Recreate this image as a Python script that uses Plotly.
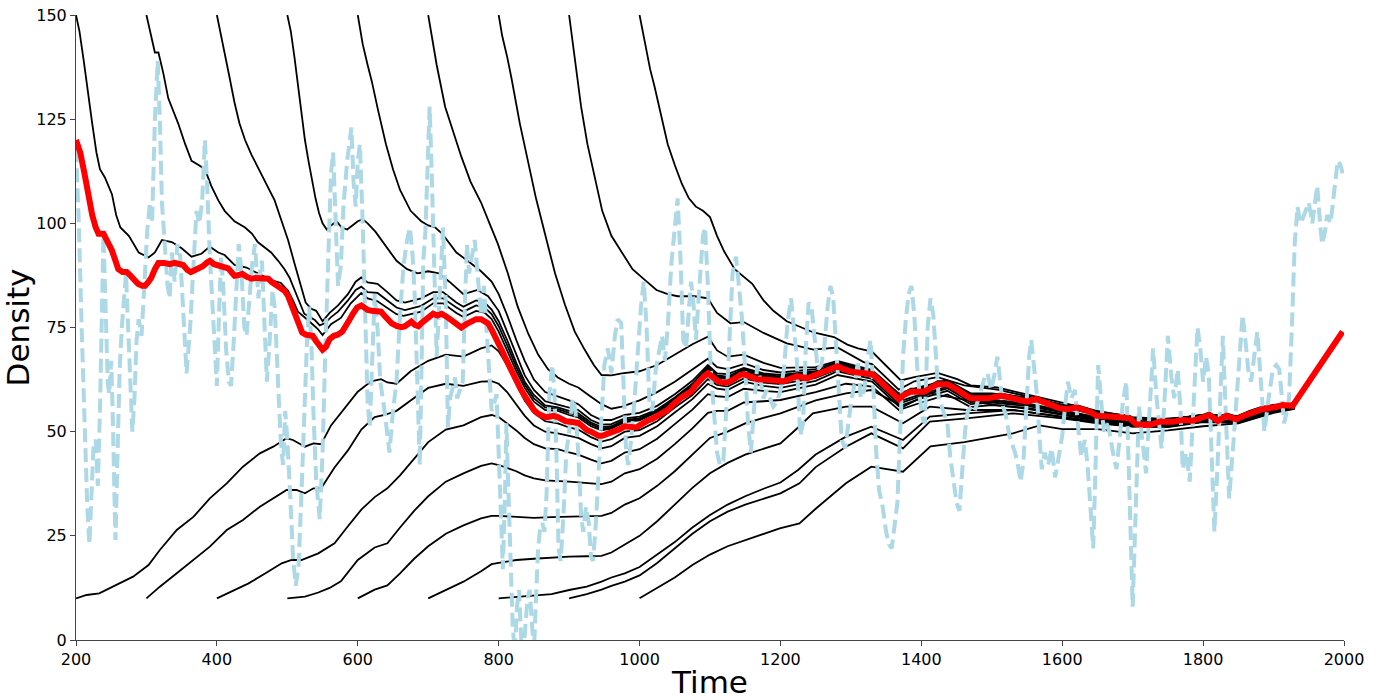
import plotly.graph_objects as go

# ---------------- data (time, density) ----------------
RED = [(200,120),(206,117),(212,112),(218,106),(223,102),(228,99),(232,97.5),(239,97.5),(245,95.5),(251,93.5),(256,91),(260,89),(266,88.3),(272,88.3),(277,87.5),(282,86.5),(288,85.5),(294,85),(298,85),(303,86),(307,87),(312,89),(317,90.5),(325,90.5),(333,90.2),(340,90.5),(347,90.4),(352,90),(358,88.8),(363,88.3),(369,88.8),(374,89.2),(380,89.7),(386,90.6),(390,91),(396,90.2),(403,89.8),(410,89.7),(416,89.2),(421,88.2),(425,87.4),(431,87.6),(436,87.9),(442,87.2),(449,86.7),(455,86.9),(462,86.8),(468,86.9),(473,86.7),(478,85.9),(484,85.3),(491,84.6),(496,83.8),(501,82.6),(506,80.6),(511,78.5),(516,76.2),(521,73.8),(526,73.3),(531,73.2),(536,73),(541,71.7),(546,70.3),(550,69.7),(555,70.4),(560,72.2),(566,73),(572,73.3),(578,74),(583,75.2),(588,76.8),(593,78.3),(599,79.8),(605,80.3),(610,79.6),(614,79.2),(620,79),(626,79),(633,78.8),(638,77.8),(643,76.6),(648,76),(655,75.4),(662,75.1),(667,75.3),(672,76),(676,76.4),(681,75.6),(686,75.3),(690,76),(695,76.8),(701,77.8),(707,78.3),(713,77.9),(719,78.3),(726,77.6),(733,76.8),(740,75.8),(747,75),(754,75.8),(761,76.6),(768,77),(775,77),(780,76.6),(785,76),(790,74.5),(795,73),(800,71.5),(806,69),(812,66.8),(818,64.6),(825,62.2),(831,60.3),(837,58.6),(844,56.6),(850,55.2),(856,54.3),(861,53.7),(866,53.5),(872,53.6),(878,53.8),(884,53.5),(890,52.9),(895,52.5),(902,52.4),(908,52.3),(913,52.1),(919,51.3),(925,50.4),(931,50),(937,49.5),(942,49),(947,49),(953,49.4),(960,49.5),(966,50),(972,50.6),(979,51.3),(985,51.3),(990,51.2),(995,51),(1000,51.5),(1006,52.2),(1012,52.7),(1017,53),(1023,53.5),(1029,54),(1035,54.5),(1041,55.3),(1047,56.4),(1054,57.6),(1060,58.3),(1066,58.9),(1073,59.6),(1079,61),(1085,62.3),(1091,63.2),(1097,64),(1100,63.6),(1106,62.6),(1112,62),(1119,61.8),(1125,61.8),(1131,62.3),(1137,63),(1143,63.6),(1148,63.8),(1154,63.3),(1160,62.8),(1167,62.6),(1176,62.5),(1186,62.4),(1195,62.2),(1205,62.1),(1214,62.7),(1224,63.3),(1231,63),(1238,62.8),(1247,63.4),(1257,64.1),(1266,64.9),(1274,65.5),(1281,65.7),(1290,65),(1300,64.4),(1310,64.2),(1318,64.1),(1330,63.8),(1337,62.8),(1345,61.5),(1352,60.6),(1360,59),(1368,57.8),(1375,58.8),(1385,59.6),(1404,59.6),(1413,60.5),(1423,61.4),(1437,61.4),(1445,60.8),(1451,60.1),(1460,59),(1470,58),(1494,58),(1505,58.3),(1513,58.6),(1522,58.3),(1531,58),(1540,57.5),(1550,57.2),(1557,57.6),(1564,57.8),(1572,57.2),(1583,56.4),(1595,55.7),(1606,55.4),(1620,55.8),(1630,55.3),(1639,54.8),(1649,53.8),(1667,53.8),(1677,53.5),(1696,53.2),(1701,52.5),(1705,51.8),(1724,51.6),(1738,52.4),(1757,52.4),(1771,52.8),(1785,52.6),(1797,53.3),(1809,54),(1815,53.3),(1821,52.6),(1833,53.8),(1847,53),(1856,53.7),(1866,54.4),(1884,55.4),(1903,55.9),(1913,56.4),(1927,56.2),(1938,59),(1950,62.4),(1962,65.2),(1974,68),(1985,70.8),(1998,74)]

BLUE = [(200,118),(204,100),(208,75),(212,50),(216,32),(219,23),(222,35),(225,47),(228,48),(231,37),(234,55),(237,85),(239,97),(242,80),(245,62),(247,59),(250,67),(252,55),(254,35),(256,24),(259,45),(262,65),(265,75),(268,82),(271,88),(274,75),(277,60),(280,50),(283,58),(286,72),(289,77),(293,73),(297,85),(301,98),(305,105),(308,100),(312,125),(316,139),(319,125),(322,105),(326,95),(330,85),(333,82),(336,93),(340,86),(344,95),(348,92),(352,80),(357,64),(362,75),(367,93),(371,103),(375,100),(379,105),(383,120),(386,110),(390,92),(394,78),(398,65),(400,61),(403,78),(406,92),(409,85),(413,70),(417,62),(420,61),(424,72),(428,88),(431,95),(435,88),(439,75),(442,73),(446,82),(450,90),(454,95),(457,85),(459,82),(462,90),(464,91),(467,78),(471,62),(475,72),(479,84),(482,80),(486,62),(490,50),(492,45),(494,42),(497,55),(500,48),(504,35),(508,20),(512,13),(516,18),(520,35),(524,55),(528,72),(531,80),(534,72),(537,55),(541,38),(546,29),(550,45),(554,70),(558,95),(562,112),(565,117),(568,100),(572,85),(576,90),(580,105),(585,115),(591,123),(594,110),(597,104),(600,115),(603,119),(607,100),(611,75),(614,57),(617,51),(620,65),(624,83),(628,75),(632,62),(638,55),(645,45),(650,55),(655,62),(660,78),(665,90),(670,96),(674,99),(678,92),(681,82),(684,65),(688,42),(691,70),(693,91),(696,98),(699,112),(702,128),(705,112),(708,90),(712,68),(716,82),(721,99),(725,80),(728,51),(731,58),(734,60),(738,63),(741,58),(745,60),(749,62),(752,80),(755,95),(758,88),(762,92),(766,96),(770,88),(775,78),(779,85),(783,75),(787,65),(790,55),(794,57),(797,59),(800,45),(803,28),(806,17),(809,35),(811,52),(814,35),(817,15),(820,3),(823,-3),(826,8),(829,12),(832,0),(835,-3),(838,5),(841,10),(844,12),(847,2),(850,-3),(853,10),(856,22),(859,27),(862,28),(865,26),(868,35),(872,59),(876,66),(879,60),(882,45),(885,22),(888,19),(892,30),(896,45),(900,50),(905,58),(909,55),(913,45),(917,30),(920,26),(924,32),(928,28),(931,20),(934,19),(938,28),(942,40),(946,55),(950,66),(955,70),(960,64),(965,73),(969,77),(974,76),(978,60),(981,45),(984,42),(988,48),(993,58),(998,72),(1002,80),(1006,86),(1010,75),(1014,57),(1018,55),(1023,65),(1028,70),(1032,73),(1036,67),(1040,75),(1045,90),(1050,100),(1054,106),(1058,92),(1062,72),(1066,70),(1070,80),(1073,86),(1076,82),(1080,72),(1085,85),(1090,97),(1093,99),(1097,85),(1101,65),(1106,52),(1110,45),(1114,42),(1119,43),(1123,55),(1128,75),(1132,88),(1137,92),(1141,85),(1145,78),(1150,65),(1154,52),(1158,45),(1162,55),(1167,66),(1171,63),(1176,58),(1180,60),(1185,58),(1190,56),(1195,57),(1200,60),(1205,65),(1210,76),(1215,82),(1219,74),(1223,68),(1228,49),(1232,52),(1236,70),(1240,81),(1244,80),(1249,72),(1253,65),(1258,66),(1262,70),(1267,80),(1271,85),(1275,82),(1279,70),(1283,57),(1287,48),(1292,46),(1297,52),(1301,58),(1306,62),(1310,67),(1314,58),(1319,60),(1324,68),(1328,72),(1332,60),(1336,45),(1340,36),(1345,32),(1350,26),(1354,23),(1358,22),(1362,28),(1366,33),(1370,50),(1374,68),(1378,77),(1382,83),(1386,85),(1390,78),(1394,66),(1398,58),(1402,53),(1405,52),(1409,75),(1413,82),(1417,78),(1421,68),(1425,57),(1429,56),(1433,54),(1437,52),(1441,44),(1446,38),(1450,33),(1454,31),(1458,40),(1462,50),(1466,55),(1471,56),(1476,55),(1481,58),(1486,61),(1490,63),(1494,64),(1499,60),(1503,63),(1508,68),(1512,62),(1516,56),(1520,54),(1525,49),(1529,47),(1533,45),(1537,42),(1541,38),(1545,43),(1549,55),(1553,68),(1556,72),(1560,65),(1564,59),(1568,48),(1571,41),(1575,45),(1580,42),(1585,46),(1590,39),(1595,44),(1600,49),(1604,56),(1608,62),(1613,58),(1618,60),(1622,52),(1627,44),(1632,48),(1636,42),(1640,32),(1644,22),(1647,40),(1651,66),(1655,58),(1659,50),(1663,52),(1667,50),(1672,45),(1677,41),(1682,49),(1686,57),(1691,62),(1695,42),(1698,20),(1700,8),(1703,25),(1706,45),(1709,56),(1713,49),(1719,40),(1724,55),(1729,70),(1734,58),(1741,46),(1746,60),(1750,73),(1755,63),(1759,58),(1764,65),(1768,55),(1771,41),(1776,45),(1781,38),(1786,55),(1792,75),(1796,70),(1800,62),(1804,68),(1808,64),(1812,45),(1816,26),(1820,40),(1824,60),(1828,73),(1832,55),(1837,34),(1842,45),(1848,60),(1853,70),(1856,78),(1860,72),(1864,65),(1868,62),(1872,68),(1877,74),(1882,62),(1887,50),(1893,58),(1899,65),(1904,66),(1908,65),(1912,58),(1915,52),(1919,55),(1922,58),(1926,75),(1930,95),(1934,104),(1938,100),(1941,101),(1946,103),(1950,105),(1955,100),(1958,104),(1962,109),(1966,100),(1969,95),(1973,98),(1976,102),(1981,100),(1986,108),(1991,115),(1995,114),(1998,112)]

# trajectories started from the top (150)
U200 = [(200,150),(205,146),(211,139),(217,131),(223,124),(229,117),(234,113),(241,111),(251,107),(257,102),(263,99),(275,97),(289,93),(303,91.8),(312,93),(322,96),(336,95.5),(350,94),(364,92),(378,92.7),(390,94.4),(402,93),(411,92.4),(425,90),(442,89.4),(458,88),(477,86.4),(491,85.7),(501,83.8),(508,81.5),(515,78.8),(529,76.8),(543,74.7),(550,73.2),(562,75.8),(576,77.3),(590,80.8),(605,83.3),(614,82),(628,81.3),(642,79.8),(655,78.2),(665,77.8),(681,78.5),(690,78.8),(707,80.8),(721,80.8),(740,78.5),(750,77.5),(768,79),(780,78.6),(790,77),(800,74),(812,69.5),(825,64.5),(837,60.5),(850,57.2),(866,55.2),(884,55),(900,54),(913,53.4),(931,51.3),(946,50.3),(960,50.7),(979,52.3),(1000,52.7),(1017,54),(1035,55.5),(1054,58.6),(1073,60.6),(1085,63.2),(1097,64.8),(1112,62.9),(1125,62.7),(1148,64.6),(1167,63.4),(1195,63),(1224,64),(1238,63.5),(1257,64.8),(1281,66.4),(1300,65.1),(1330,64.5),(1352,61.3),(1368,58.6),(1385,60.3),(1404,60.3),(1423,62.1),(1437,62.1),(1451,60.8),(1470,58.7),(1494,58.7),(1513,59.2),(1531,58.6),(1550,57.8),(1564,58.4),(1583,57),(1606,56),(1620,56.4),(1639,55.4),(1649,54.4),(1667,54.4),(1696,53.8),(1705,52.4),(1724,52.2),(1738,53),(1771,53.4),(1785,53.2),(1809,54.6),(1821,53.2),(1833,54.4),(1847,53.6),(1866,55),(1884,56),(1903,56.5),(1930,56.8)]
U300 = [(300,150),(305,146),(312,141),(317,141),(324,136),(331,130),(338,127),(345,124),(355,119),(364,115),(374,114),(383,113),(392,109),(402,105.5),(411,103),(425,100.5),(440,99),(450,97.5),(458,95.5),(468,94.3),(477,93),(487,91),(496,89),(503,87),(510,84),(517,81),(524,78.3),(532,77.5),(539,76.8),(546,75.5),(553,76),(562,77.5),(572,78.8),(586,81.5),(597,84),(605,84.8),(614,83.5),(628,83.3),(642,81.5),(655,79.8),(667,79.2),(681,79.8),(690,80.2),(707,82),(721,82),(740,79.8),(750,78.8),(768,80.3),(780,79.8),(790,78.2),(800,75.3),(812,70.8),(825,65.5),(837,61.3),(850,58),(866,55.8),(884,55.4),(900,54.5),(913,53.9),(931,51.8),(946,50.7),(960,51),(979,52.5),(1000,53),(1025,54.8),(1050,57.8),(1075,61),(1097,65),(1110,63.1),(1125,62.9),(1148,64.8),(1176,63.4),(1200,63),(1250,64.1),(1281,66),(1330,64.1),(1368,58.3),(1400,60),(1437,61.8),(1470,58.4),(1500,58.5),(1550,57.6),(1600,55.8),(1650,54.1),(1700,52.9),(1750,52.7),(1800,53.8),(1850,53.5),(1900,56.1),(1930,56.6)]
U400 = [(400,150),(405,146),(411,141),(418,135),(425,129),(432,124),(440,120),(449,116.5),(458,113.5),(470,109.5),(482,105.5),(491,101),(501,96),(510,90.5),(518,85.5),(526,81),(534,79.5),(541,79),(550,76.5),(560,78.5),(572,80.3),(586,83),(597,86),(605,87),(614,85.8),(628,85.5),(642,83.5),(655,81.5),(667,81),(681,81.5),(690,82),(707,83.5),(721,83.5),(740,81),(750,80),(768,81.5),(780,81),(790,79.3),(800,76.5),(812,72),(825,66.5),(837,62),(850,58.8),(866,56.3),(884,55.8),(900,55),(913,54.4),(931,52.2),(946,51.1),(960,51.3),(979,52.8),(1000,53.2),(1025,55),(1050,57.9),(1075,61.2),(1097,65.2),(1110,63.3),(1125,63),(1148,64.9),(1176,63.5),(1200,63.1),(1250,64.2),(1281,66.1),(1330,64.2),(1368,58.4),(1400,60.1),(1437,61.9),(1470,58.5),(1500,58.6),(1550,57.7),(1600,55.9),(1650,54.2),(1700,53),(1750,52.8),(1800,53.9),(1850,53.6),(1900,56.2),(1930,56.6)]
U500 = [(500,150),(505,146),(510,140),(515,133),(520,126),(525,120),(530,115),(535,110),(540,106),(545,102.5),(550,100),(556,98.5),(562,99.5),(570,100.5),(577,99),(585,98.5),(593,99.5),(600,100.5),(607,101),(614,100),(625,98),(642,94),(655,91),(670,89),(685,88),(700,88.5),(715,88),(730,86),(750,83),(770,84),(785,82.5),(800,79),(812,74),(825,68.5),(837,63.5),(850,60),(866,57.3),(884,56.5),(900,55.8),(913,55.2),(931,52.8),(946,51.7),(960,51.8),(979,53.2),(1000,53.6),(1025,55.3),(1050,58.2),(1075,61.5),(1097,65.5),(1110,63.5),(1125,63.2),(1148,65),(1176,63.7),(1200,63.2),(1250,64.3),(1281,66.2),(1330,64.3),(1368,58.5),(1400,60.2),(1437,62),(1470,58.6),(1500,58.7),(1550,57.8),(1600,56),(1650,54.2),(1700,53),(1750,52.8),(1800,53.9),(1850,53.6),(1900,56.2),(1930,56.6)]
U600 = [(600,150),(607,143),(614,138),(620,134),(629,127),(640,119),(650,113),(660,108),(675,103),(690,100.5),(700,99.5),(710,99),(720,97.5),(740,93),(760,90.5),(775,88.5),(790,86),(800,83),(812,78),(825,72),(837,67),(850,62.5),(866,59.5),(884,58.5),(900,57.5),(913,56.6),(931,54),(946,52.8),(960,52.8),(979,54),(1000,54.5),(1025,56.2),(1050,59),(1075,62.2),(1097,66),(1110,64),(1125,63.8),(1148,65.3),(1176,64),(1200,63.6),(1250,64.5),(1281,66.4),(1330,64.5),(1368,58.7),(1400,60.4),(1437,62.1),(1470,58.7),(1500,58.8),(1550,57.9),(1600,56.1),(1650,54.3),(1700,53.1),(1750,52.8),(1800,53.9),(1850,53.6),(1900,56.2),(1930,56.6)]
U700 = [(700,150),(712,138),(724,128),(735,122),(747,116),(760,110),(775,105),(787,100),(799,95),(813,88),(827,80),(842,73.5),(856,68.5),(870,65),(884,63),(900,61.5),(913,60.6),(930,58.5),(946,56.6),(960,55.5),(975,56),(1000,57.5),(1025,59.5),(1050,62),(1075,65),(1097,67.5),(1110,65.5),(1125,65),(1150,66.3),(1176,64.8),(1200,64.2),(1250,65),(1281,66.7),(1330,64.7),(1368,58.9),(1400,60.6),(1437,62.2),(1470,58.9),(1500,59),(1550,58),(1600,56.2),(1650,54.4),(1700,53.2),(1750,52.9),(1800,54),(1850,53.7),(1900,56.3),(1930,56.7)]
U800 = [(800,150),(805,145),(812,140),(818,135),(830,124),(842,115),(853,106),(865,98),(880,88),(894,80.5),(908,74),(922,69.7),(935,66),(946,63.6),(960,63.5),(975,64),(1000,64.5),(1025,66),(1050,68.5),(1075,71),(1097,72.8),(1110,69.5),(1125,68),(1148,68.5),(1176,66.5),(1200,65.3),(1250,65.5),(1281,67),(1330,64.8),(1368,59.2),(1400,60.8),(1437,62.3),(1470,59.2),(1500,59.2),(1550,58.2),(1600,56.3),(1650,54.5),(1700,53.3),(1750,52.9),(1800,54),(1850,53.7),(1900,56.3),(1930,56.7)]
U900 = [(900,150),(908,140),(917,128),(926,119),(936,111),(947,103),(960,97),(975,93),(990,89),(1007,86.5),(1024,84),(1040,83),(1054,82.5),(1078,82.5),(1097,82),(1110,78.5),(1129,76),(1148,76.3),(1176,73.7),(1209,71.2),(1247,69.7),(1281,70.2),(1318,66.7),(1330,66.2),(1368,60.1),(1390,62.1),(1423,63.1),(1461,61.1),(1508,60.1),(1550,58.5),(1600,56.5),(1650,54.7),(1700,53.3),(1750,52.9),(1800,54),(1850,53.7),(1900,56.3),(1930,56.7)]
U1000 = [(1000,150),(1008,143),(1015,137),(1021,133),(1030,126),(1040,119),(1050,114),(1060,109.5),(1070,106),(1080,104),(1090,103),(1100,101.5),(1110,97),(1120,93.3),(1135,89),(1150,87),(1160,85.5),(1176,81.5),(1190,79),(1209,76.5),(1230,75),(1247,73.8),(1276,72.7),(1295,70.9),(1310,70),(1330,69.2),(1349,66),(1371,62.3),(1390,63.1),(1423,64.1),(1451,62.6),(1470,61.1),(1508,60.6),(1546,59.1),(1600,57),(1650,55),(1700,53.5),(1750,53),(1800,54),(1850,53.8),(1900,56.3),(1930,56.8)]

# trajectories started from the bottom (10)
L200 = [(200,10),(215,10.8),(233,11.2),(257,13.2),(281,15.2),(303,18),(319,21.6),(343,26.4),(367,29.6),(390,34),(414,37.6),(437,41.6),(461,44.8),(480,46.4),(499,48.4),(508,48),(525,46.4),(537,47.2),(548,47),(562,51.5),(581,55.6),(600,59.6),(619,62.1),(633,62.6),(642,61.8),(655,61.5),(675,64.5),(700,67),(725,68.5),(750,68),(775,70),(790,70.7),(800,69.3),(812,66),(825,61.5),(837,57.5),(850,54.5),(866,52.5),(884,52),(900,51),(913,50.5),(931,48.7),(946,47.6),(960,48.2),(979,50),(1000,50.4),(1025,52.5),(1050,55.8),(1075,58.8),(1097,62.6),(1110,61.2),(1125,60.8),(1148,62.8),(1176,61.8),(1200,61.4),(1250,62.9),(1281,65),(1330,63.2),(1368,57.2),(1400,59),(1437,60.8),(1470,57.5),(1500,57.7),(1550,56.8),(1600,55.1),(1650,53.5),(1700,52.3),(1750,52.1),(1800,53.2),(1850,53),(1900,55.6),(1930,56.3)]
L300 = [(300,10),(319,12.8),(343,16),(367,19.2),(390,22.4),(414,26.4),(437,28.8),(461,32),(485,34.4),(499,36),(513,36),(525,35.2),(537,36.4),(548,36.4),(567,41.4),(586,45.5),(605,50.5),(624,53.5),(638,54),(655,55),(675,57.5),(700,60.5),(725,61.5),(750,61),(775,62),(790,62.1),(800,61.5),(812,59.5),(825,56.5),(837,53.8),(850,51.5),(866,50),(884,49.6),(900,49),(913,48.5),(931,47),(946,46),(960,46.5),(979,48.5),(1000,49),(1025,51.3),(1050,54.6),(1075,57.8),(1097,61.5),(1110,60.3),(1125,60),(1148,62),(1176,61),(1200,60.5),(1250,62.2),(1281,64.5),(1330,62.7),(1368,56.7),(1400,58.6),(1437,60.4),(1470,57.1),(1500,57.4),(1550,56.5),(1600,54.9),(1650,53.3),(1700,52.1),(1750,52),(1800,53.1),(1850,52.9),(1900,55.5),(1930,56.2)]
L400 = [(400,10),(421,11.6),(445,13.6),(469,16),(492,18.4),(506,19.2),(520,19.2),(544,20.8),(567,23.2),(586,27.3),(605,31.3),(624,34.3),(642,36.4),(660,39.5),(680,43.5),(700,47.5),(725,50.5),(750,51.5),(775,53.5),(790,54),(800,53.5),(812,52),(825,50.3),(837,48.5),(850,47),(866,46),(884,45.8),(900,45),(913,44.5),(931,43.3),(946,42.4),(960,43),(979,45),(1000,45.8),(1025,48.3),(1050,51.8),(1075,55.3),(1097,59),(1110,58.5),(1125,58.3),(1148,60.3),(1176,59.8),(1200,59.5),(1250,61.3),(1281,63.6),(1330,62),(1368,56.1),(1400,58),(1437,59.8),(1470,56.6),(1500,57),(1550,56.2),(1600,54.7),(1650,53.1),(1700,52),(1750,51.9),(1800,53),(1850,52.8),(1900,55.4),(1930,56.1)]
L500 = [(500,10),(525,10.4),(544,11.4),(560,12.5),(576,14.1),(600,19.2),(624,22.2),(642,23.2),(660,27),(680,31),(700,34.5),(725,38),(750,40),(775,41.8),(790,42.4),(800,42),(812,41.3),(825,40.5),(837,39.5),(850,38.8),(866,38.3),(884,38.2),(900,38),(931,37.6),(946,37.4),(960,38),(979,40),(1000,41),(1025,43.5),(1050,47),(1075,50.8),(1097,54.5),(1110,55),(1125,55),(1148,57),(1176,57.3),(1200,57.6),(1250,59.5),(1293,61.5),(1330,60.8),(1368,55.2),(1400,57),(1437,58.9),(1470,55.9),(1500,56.4),(1550,55.7),(1600,54.3),(1650,52.8),(1700,51.8),(1750,51.7),(1800,52.8),(1850,52.6),(1900,55.2),(1930,56)]
L600 = [(600,10),(624,12.1),(642,13.1),(660,16),(680,19.5),(700,22.5),(725,25.5),(750,27.5),(775,29.2),(790,29.8),(800,29.8),(825,29.5),(850,29.3),(875,29.5),(900,29.6),(925,29.7),(946,29.8),(960,30.5),(979,32.5),(1000,34),(1025,37),(1050,40.5),(1075,44.5),(1100,48.5),(1125,50),(1150,52),(1176,53.3),(1200,54.4),(1250,57.5),(1293,59.2),(1329,60),(1374,56),(1412,59.2),(1464,57.6),(1500,56.5),(1550,55.5),(1600,54),(1650,52.6),(1700,51.6),(1750,51.5),(1800,52.6),(1850,52.4),(1900,55),(1930,55.9)]
L700 = [(700,10),(725,12),(750,14),(775,16.5),(790,18.2),(800,18.5),(825,19.2),(850,19.5),(875,19.8),(900,20),(925,20.1),(946,20.2),(960,21),(979,23),(1000,25),(1025,28.5),(1050,32.5),(1075,36.5),(1100,40),(1125,42.5),(1150,44.5),(1176,46),(1200,47.2),(1225,51),(1246,54.4),(1293,56),(1329,56),(1374,52),(1412,56),(1464,55.2),(1530,55.2),(1600,53.6),(1650,52.3),(1700,51.4),(1750,51.3),(1800,52.5),(1850,52.3),(1900,54.9),(1930,55.8)]
L800 = [(800,10),(825,10.3),(850,10.6),(875,11),(900,12),(925,12.8),(946,14),(960,15),(979,16),(1000,17.5),(1025,20.5),(1050,23.5),(1075,27),(1100,30),(1125,32.5),(1150,34.5),(1176,36.3),(1200,37.8),(1225,40.8),(1250,44.5),(1293,48.8),(1329,51.2),(1374,48),(1412,53.6),(1464,54.4),(1530,55.2),(1600,53.5),(1650,52.2),(1700,51.3),(1750,51.2),(1800,52.4),(1850,52.2),(1900,54.8),(1930,55.7)]
L900 = [(900,10),(925,11),(946,12.1),(960,13),(979,14),(1000,15.5),(1025,18.5),(1050,22),(1075,25.5),(1100,28.5),(1125,30.8),(1150,32.5),(1176,34),(1200,35.2),(1227,37.6),(1250,41.5),(1293,46.4),(1329,49.6),(1374,46),(1412,52.4),(1464,53.2),(1530,54.4),(1600,53.2),(1650,52),(1700,51.2),(1750,51.1),(1800,52.3),(1850,52.1),(1900,54.7),(1930,55.6)]
L1000 = [(1000,10),(1025,12.5),(1050,15),(1075,18),(1100,20.5),(1125,22.5),(1150,24),(1176,25.5),(1199,26.8),(1227,28),(1250,31.5),(1293,37.6),(1329,41.6),(1374,40.4),(1413,46.5),(1461,47.5),(1530,49.6),(1568,51.5),(1600,50.6),(1650,50.6),(1700,49.6),(1750,50.3),(1800,51.3),(1850,52),(1900,54.5),(1930,55.5)]

TRAJECTORIES = [U200, U300, U400, U500, U600, U700, U800, U900, U1000,
                L200, L300, L400, L500, L600, L700, L800, L900, L1000]

X_TICKS = [200, 400, 600, 800, 1000, 1200, 1400, 1600, 1800, 2000]
Y_TICKS = [0, 25, 50, 75, 100, 125, 150]

# ---------------- figure ----------------
fig = go.Figure()

for tr in TRAJECTORIES:
    fig.add_trace(go.Scatter(x=[p[0] for p in tr], y=[p[1] for p in tr], mode="lines",
                             line=dict(color="black", width=1.8), hoverinfo="skip",
                             showlegend=False))

fig.add_trace(go.Scatter(x=[p[0] for p in BLUE], y=[p[1] for p in BLUE], mode="lines",
                         line=dict(color="#ADD8E6", width=4, dash="14px,6px"),
                         showlegend=False))

fig.add_trace(go.Scatter(x=[p[0] for p in RED], y=[p[1] for p in RED], mode="lines",
                         line=dict(color="#FF0000", width=6), showlegend=False))

axis_font = dict(family="DejaVu Sans", size=16, color="black")
title_font = dict(family="DejaVu Sans", size=31, color="black")
fig.update_layout(
    width=1384, height=700,
    margin=dict(l=76, r=40, t=15, b=60, autoexpand=False),
    paper_bgcolor="white", plot_bgcolor="white",
    xaxis=dict(range=[200, 2000], tickvals=X_TICKS, showgrid=False, zeroline=False,
               automargin=False, showline=True, linecolor="#444444", linewidth=1,
               ticks="outside", ticklen=5, tickcolor="#444444", tickfont=axis_font,
               title=dict(text="Time", font=title_font, standoff=4)),
    yaxis=dict(range=[0, 150], tickvals=Y_TICKS, showgrid=False, zeroline=False,
               automargin=False, showline=True, linecolor="#444444", linewidth=1,
               ticks="outside", ticklen=5, tickcolor="#444444", tickfont=axis_font,
               title=dict(text="Density", font=title_font, standoff=10)),
)

# remove the default page margin so the figure sits at the window's top-left corner
fig.write_html("out.html",
               config={"displayModeBar": False},
               post_script="document.body.style.margin='0';document.body.style.overflow='hidden';")
